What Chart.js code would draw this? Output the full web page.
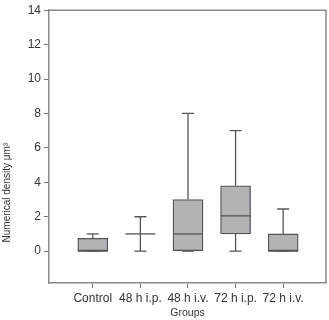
<!DOCTYPE html>
<html>
<head>
<meta charset="utf-8">
<script src="https://cdn.jsdelivr.net/npm/chart.js@4.4.1/dist/chart.umd.min.js"></script>
<style>
  html, body { margin: 0; padding: 0; background: #fff; }
</style>
</head>
<body>
<canvas id="boxChart" width="329" height="320"></canvas>
<script>
const groups = ['Control', '48 h i.p.', '48 h i.v.', '72 h i.p.', '72 h i.v.'];
const whiskerLow = [0, 0, 0, 0, 0];
const quartile1 = [0, 1, 0, 1, 0];
const medians = [0, 1, 1, 2.05, 0];
const quartile3 = [0.75, 1, 3, 3.8, 1];
const whiskerHigh = [1, 2, 8, 7, 2.45];
const yTicks = [0, 2, 4, 6, 8, 10, 12, 14];
const yTitle = 'Numerical density μm³';

const boxData = groups.map((g, i) => ({ x: i, y: [quartile1[i], quartile3[i]] }));

// whiskers, caps, medians, frame and y title
const boxExtras = {
  id: 'boxExtras',
  beforeDatasetsDraw(chart) {
    const { ctx, scales: { x, y } } = chart;
    ctx.save();
    ctx.strokeStyle = '#555';
    ctx.lineWidth = 1.3;
    groups.forEach((g, i) => {
      const cx = x.getPixelForValue(i);
      ctx.beginPath();
      ctx.moveTo(cx, y.getPixelForValue(whiskerLow[i]));
      ctx.lineTo(cx, y.getPixelForValue(quartile1[i]));
      ctx.moveTo(cx, y.getPixelForValue(quartile3[i]));
      ctx.lineTo(cx, y.getPixelForValue(whiskerHigh[i]));
      [whiskerLow[i], whiskerHigh[i]].forEach(v => {
        const py = y.getPixelForValue(v);
        ctx.moveTo(cx - 6, py);
        ctx.lineTo(cx + 6, py);
      });
      ctx.stroke();
    });
    ctx.restore();
  },
  afterDatasetsDraw(chart) {
    const { ctx, scales: { x, y }, chartArea } = chart;
    ctx.save();
    ctx.strokeStyle = '#555';
    ctx.lineWidth = 1.3;
    groups.forEach((g, i) => {
      const cx = x.getPixelForValue(i);
      const py = y.getPixelForValue(medians[i]);
      ctx.beginPath();
      ctx.moveTo(cx - 15, py);
      ctx.lineTo(cx + 15, py);
      ctx.stroke();
    });
    ctx.strokeStyle = '#8a8a8a';
    ctx.lineWidth = 1.5;
    ctx.beginPath();
    ctx.moveTo(chartArea.left, chartArea.top);
    ctx.lineTo(chartArea.right, chartArea.top);
    ctx.lineTo(chartArea.right, chartArea.bottom);
    ctx.stroke();
    // y axis title, placed lower like the original
    ctx.translate(7, y.getPixelForValue(3.4));
    ctx.rotate(-Math.PI / 2);
    ctx.fillStyle = '#333';
    ctx.font = '10px "Liberation Sans"';
    ctx.textAlign = 'center';
    ctx.textBaseline = 'middle';
    ctx.fillText(yTitle, 0, 0);
    ctx.restore();
  }
};

new Chart(document.getElementById('boxChart'), {
  type: 'bar',
  data: {
    datasets: [{
      data: boxData,
      backgroundColor: '#b3b3b7',
      borderColor: '#555',
      borderWidth: 1.3,
      borderSkipped: false,
      barThickness: 30
    }]
  },
  plugins: [boxExtras],
  options: {
    responsive: false,
    animation: false,
    layout: { padding: { top: 9, right: 3, left: 0, bottom: 0 } },
    plugins: { legend: { display: false }, tooltip: { enabled: false } },
    scales: {
      x: {
        type: 'linear',
        offset: false,
        min: -0.92,
        max: 4.9,
        afterBuildTicks: scale => { scale.ticks = groups.map((g, i) => ({ value: i })); },
        afterFit: scale => { scale.height = 37; },
        ticks: {
          callback: v => groups[v],
          color: '#333',
          font: { family: 'Liberation Sans', size: 12 },
          padding: 3,
          maxRotation: 0,
          autoSkip: false
        },
        grid: { offset: false, drawOnChartArea: false, tickLength: 5, color: '#777' },
        border: { color: '#8a8a8a', width: 1.5 },
        title: {
          display: true,
          text: 'Groups',
          color: '#333',
          font: { family: 'Liberation Sans', size: 10.5 },
          padding: { top: 2, bottom: 1 }
        }
      },
      y: {
        min: -1.85,
        max: 14,
        afterBuildTicks: scale => { scale.ticks = yTicks.map(v => ({ value: v })); },
        afterFit: scale => { scale.width = 49; },
        ticks: {
          color: '#333',
          font: { family: 'Liberation Sans', size: 12 },
          padding: 3
        },
        grid: { drawOnChartArea: false, tickLength: 5, color: '#777' },
        border: { color: '#8a8a8a', width: 1.5 }
      }
    }
  }
});
</script>
</body>
</html>
